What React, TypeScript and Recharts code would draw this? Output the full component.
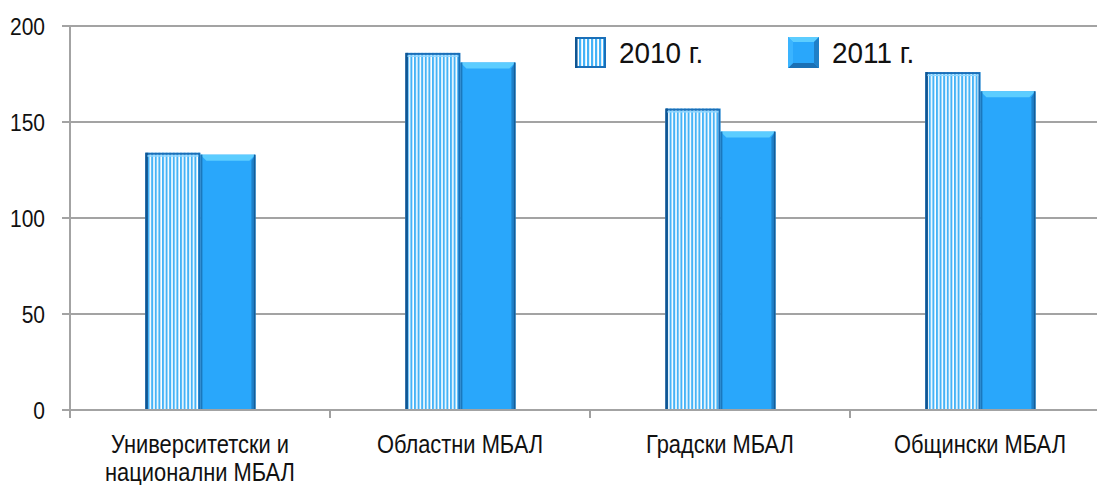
import React from 'react';
import { BarChart, Bar, XAxis, YAxis, CartesianGrid, Legend } from 'recharts';

const categories = ['Университетски и\nнационални МБАЛ', 'Областни МБАЛ', 'Градски МБАЛ', 'Общински МБАЛ'];
const values2010 = [134, 186, 157, 176];
const values2011 = [133, 181, 145, 166];
const seriesNames = ['2010 г.', '2011 г.'];
const yTicks = [0, 50, 100, 150, 200];

const data = categories.map((name, i) => ({ name, v2010: values2010[i], v2011: values2011[i] }));

const CHART_W = 1112;
const CHART_H = 485;
const MARGIN = { top: 26, right: 2, bottom: 0, left: 0 };
const YAXIS_W = 70;
const XAXIS_H = 75;
const BAND = (CHART_W - MARGIN.right - YAXIS_W) / categories.length;
const FONT = '"Liberation Sans", Arial, sans-serif';
const SX = 0.875;

const StripedBar = (props: any) => {
  const { x, y, width, height } = props;
  if (!height || height <= 0) return null;
  return (
    <g>
      <rect x={x} y={y} width={width} height={height} fill="url(#stripes2010)" />
      <rect x={x + 1} y={y + 1} width={width - 2} height={height - 1} fill="none" stroke="#1a6fb8" strokeWidth={2} />
      <rect x={x} y={y} width={2.5} height={height} fill="#0f5592" />
      <rect x={x + 2} y={y + 2.5} width={width - 4} height={1.5} fill="#8fd6ff" />
    </g>
  );
};

const BevelBar = (props: any) => {
  const { x, y, width, height } = props;
  if (!height || height <= 0) return null;
  const b = 6;
  return (
    <g>
      <rect x={x} y={y} width={width} height={height} fill="#29a7fb" />
      <polygon points={`${x},${y} ${x + width},${y} ${x + width - b},${y + b} ${x + b},${y + b}`} fill="#5ccdff" />
      <polygon points={`${x + width},${y} ${x + width},${y + height} ${x + width - 4},${y + height} ${x + width - 4},${y + b}`} fill="#1f80c8" />
      <rect x={x + width - 1.5} y={y} width={1.5} height={height} fill="#145e9a" />
      <rect x={x} y={y} width={2} height={height} fill="#1b78bd" />
    </g>
  );
};

const XTick = (props: any) => {
  const { x, y, payload } = props;
  const lines = String(payload.value).split('\n');
  return (
    <g>
      <line x1={x - BAND / 2} x2={x - BAND / 2} y1={y} y2={y + 8} stroke="#a0a0a0" strokeWidth={2} />
      <g transform={`translate(${x},${y + 43}) scale(${SX},1)`}>
        <text x={0} y={0} textAnchor="middle" fontFamily={FONT} fontSize={25} fill="#111">
          {lines.map((l, i) => (
            <tspan key={i} x={0} dy={i === 0 ? 0 : 28}>{l}</tspan>
          ))}
        </text>
      </g>
    </g>
  );
};

const YTick = (props: any) => {
  const { x, y, payload } = props;
  return (
    <g transform={`translate(${x},${y}) scale(${SX},1)`}>
      <text x={0} y={0} dy="0.36em" textAnchor="end" fontFamily={FONT} fontSize={24} fill="#111">
        {payload.value}
      </text>
    </g>
  );
};

const LegendContent = () => (
  <div style={{ position: 'relative', width: 360, height: 34, fontFamily: FONT, fontSize: 30, color: '#111' }}>
    {seriesNames.map((s, i) => (
      <div key={s} style={{ position: 'absolute', left: i * 213, top: 0, display: 'flex', alignItems: 'center', whiteSpace: 'nowrap' }}>
        <svg width={31} height={31} style={{ display: 'block' }}>
          {i === 0 ? (
            <g>
              <rect x={0} y={0} width={31} height={31} fill="url(#stripes2010L)" />
              <rect x={1} y={1} width={29} height={29} fill="none" stroke="#1a6fb8" strokeWidth={2} />
              <rect x={0} y={0} width={2.5} height={31} fill="#0f5592" />
            </g>
          ) : (
            <g>
              <rect x={0} y={0} width={31} height={31} fill="#29a7fb" />
              <polygon points="0,0 31,0 26,5 5,5" fill="#5ccdff" />
              <polygon points="31,0 31,31 26,26 26,5" fill="#1f80c8" />
              <polygon points="0,31 31,31 26,26 5,26" fill="#1a70b5" />
              <polygon points="0,0 5,5 5,26 0,31" fill="#3ab4ff" />
            </g>
          )}
          <defs>
            <pattern id="stripes2010L" width={4} height={10} patternUnits="userSpaceOnUse">
              <rect x={0} y={0} width={4} height={10} fill="#ffffff" />
              <rect x={0} y={0} width={2.2} height={10} fill="#45b3f7" />
            </pattern>
          </defs>
        </svg>
        <span style={{ marginLeft: 13, lineHeight: '31px', display: 'inline-block', transform: 'scaleX(0.93)', transformOrigin: 'left center' }}>{s}</span>
      </div>
    ))}
  </div>
);

export default function App() {
  return (
    <div style={{ position: 'absolute', left: 0, top: 0, width: 1097, height: 485, overflow: 'hidden', background: '#fff' }}>
      <BarChart
        width={CHART_W}
        height={CHART_H}
        data={data}
        margin={MARGIN}
        barGap={0}
        barCategoryGap="29%"
      >
        <defs>
          <pattern id="stripes2010" width={3.6} height={10} patternUnits="userSpaceOnUse">
            <rect x={0} y={0} width={3.6} height={10} fill="#ffffff" />
            <rect x={0} y={0} width={2} height={10} fill="#45b3f7" />
          </pattern>
        </defs>
        <CartesianGrid horizontal vertical={false} stroke="#a3a3a3" strokeWidth={2} />
        <XAxis
          dataKey="name"
          interval={0}
          height={XAXIS_H}
          tickLine={false}
          tickSize={0}
          tickMargin={0}
          axisLine={{ stroke: '#a3a3a3', strokeWidth: 2 }}
          tick={<XTick />}
        />
        <YAxis
          width={YAXIS_W}
          domain={[0, 200]}
          ticks={yTicks}
          interval={0}
          tickSize={8}
          tickMargin={17}
          axisLine={{ stroke: '#a3a3a3', strokeWidth: 2 }}
          tickLine={{ stroke: '#a3a3a3', strokeWidth: 2 }}
          tick={<YTick />}
        />
        <Legend
          layout="horizontal"
          verticalAlign="middle"
          align="center"
          wrapperStyle={{ top: 37, left: 575, width: 380 }}
          content={<LegendContent />}
        />
        <Bar dataKey="v2010" name={seriesNames[0]} shape={<StripedBar />} isAnimationActive={false} />
        <Bar dataKey="v2011" name={seriesNames[1]} shape={<BevelBar />} isAnimationActive={false} />
      </BarChart>
    </div>
  );
}
